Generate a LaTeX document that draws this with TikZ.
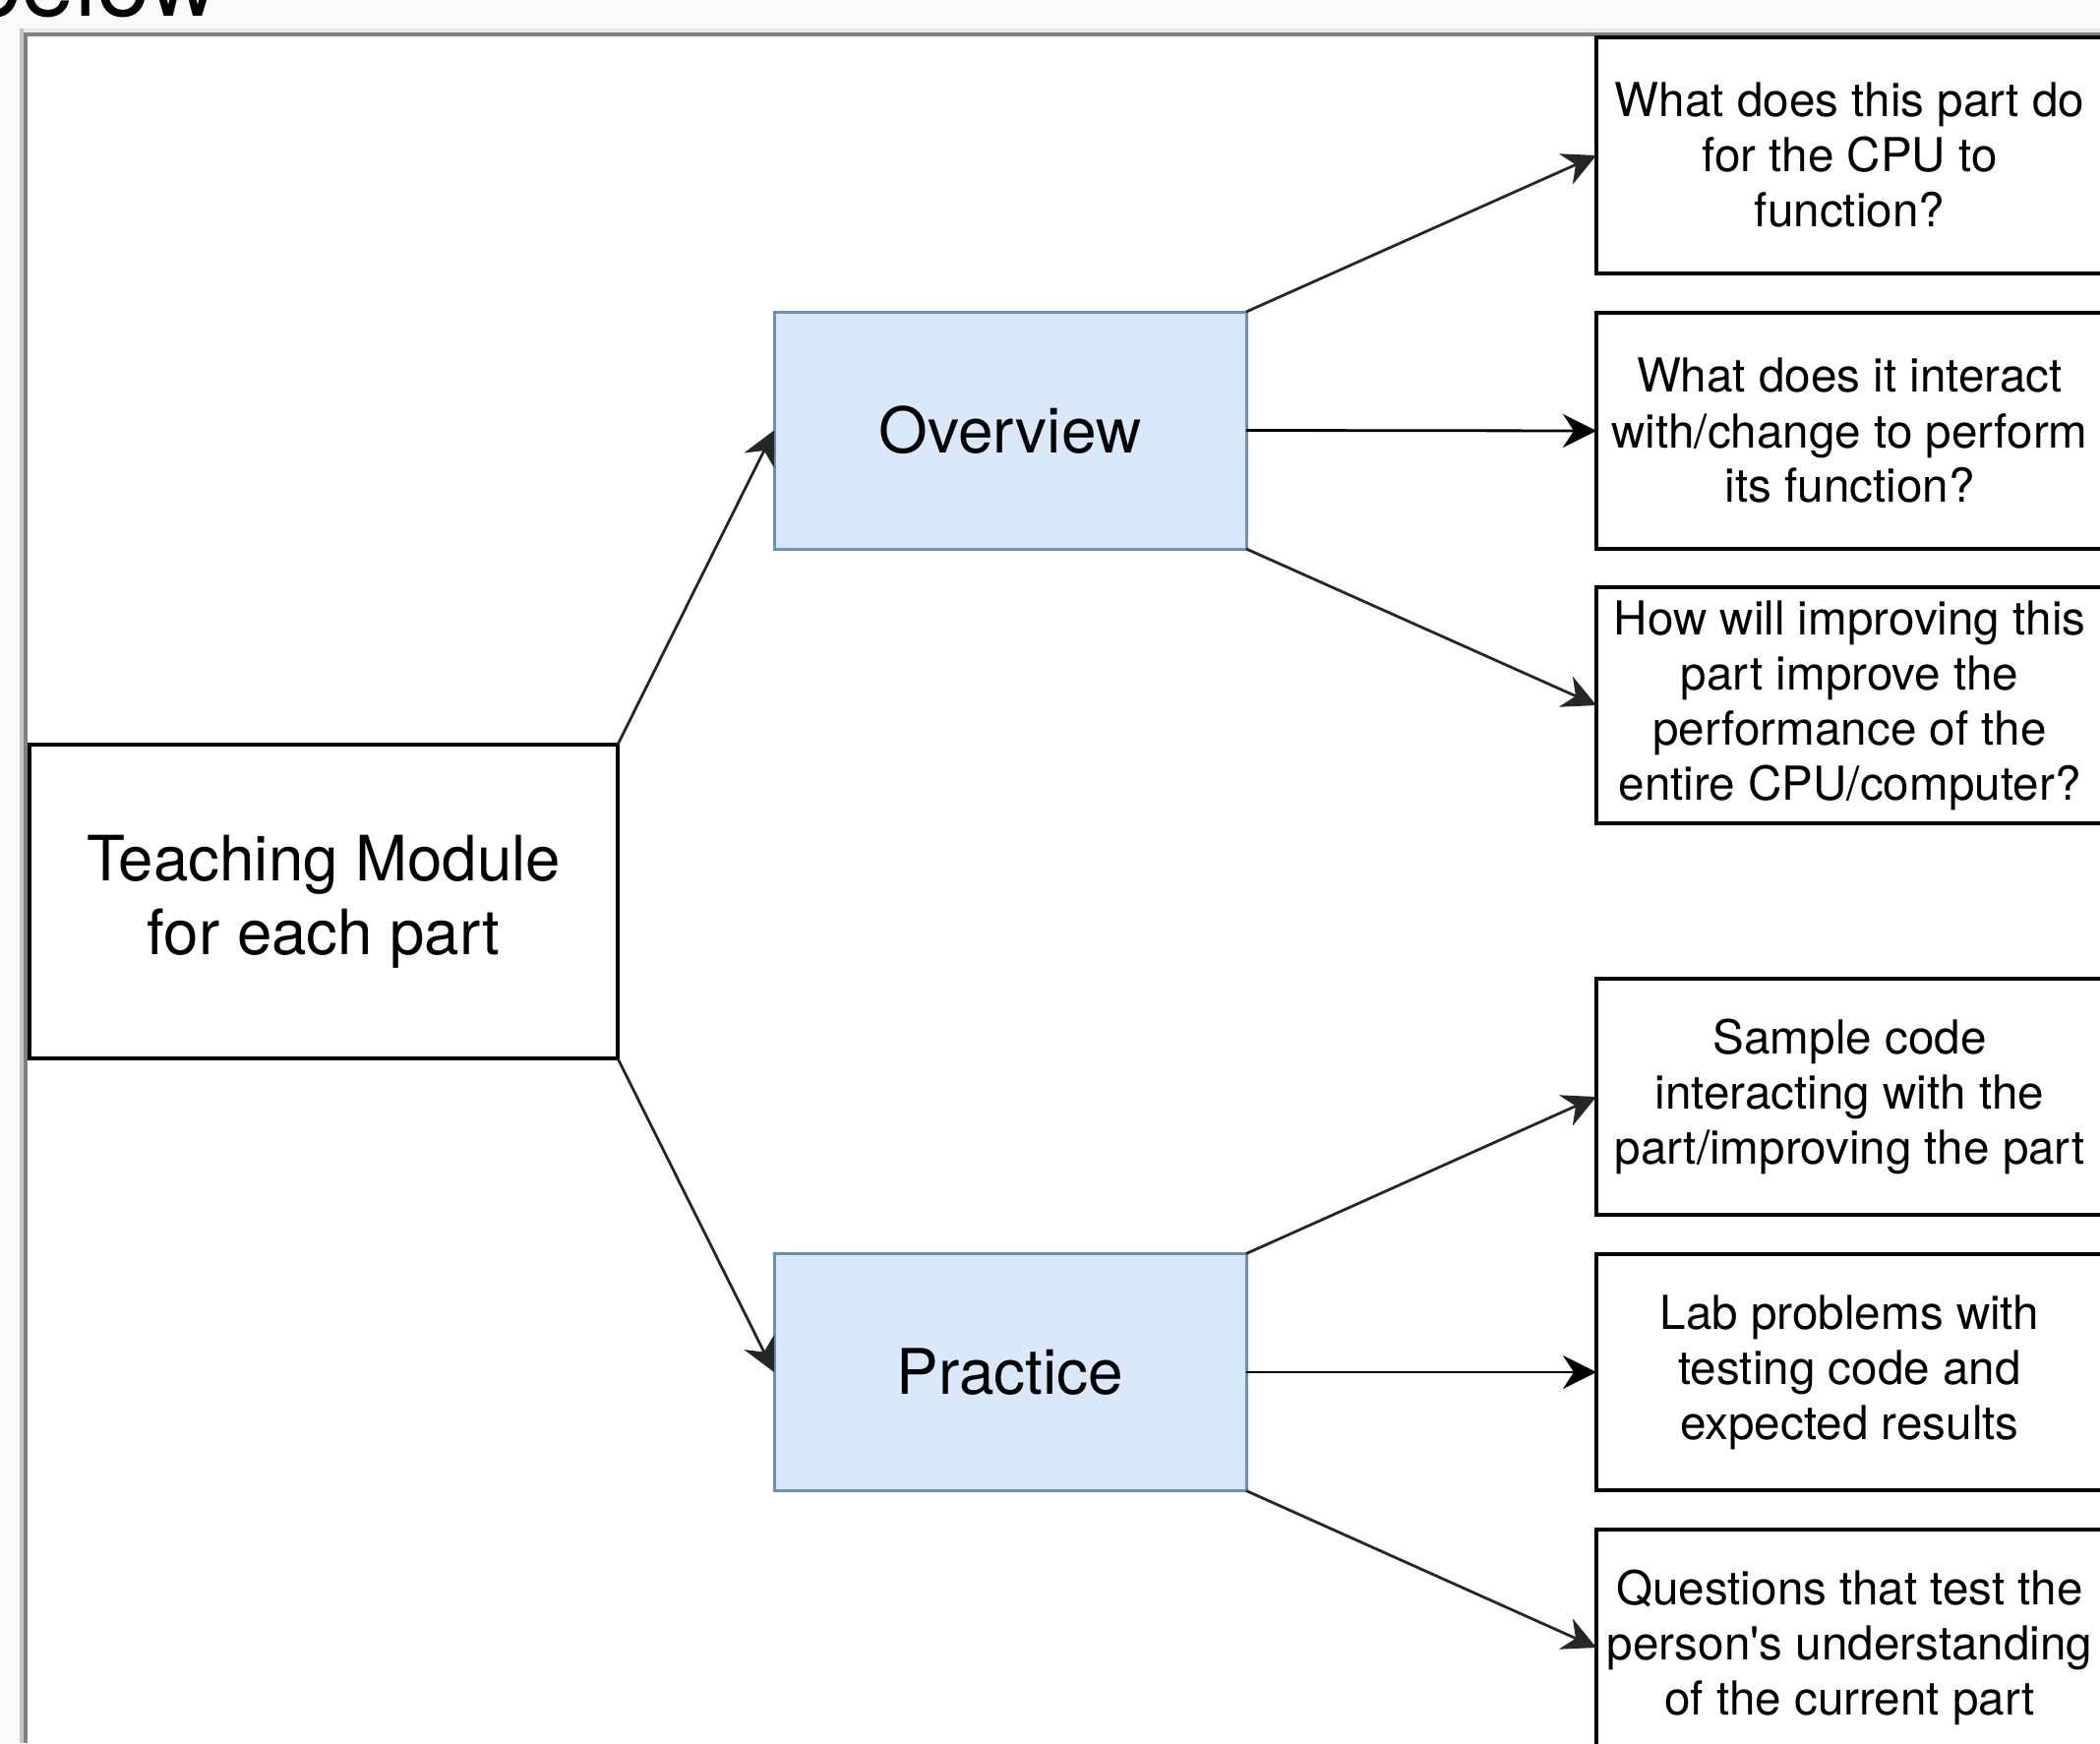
\documentclass[tikz,border=0pt]{standalone}
\usepackage{fontspec}
\setmainfont{TeX Gyre Heros}
\usetikzlibrary{arrows.meta}
\definecolor{bluefill}{HTML}{DAE8FC}
\definecolor{blueline}{HTML}{6C8EBF}
\definecolor{pagebg}{HTML}{F9F9F9}
\definecolor{frameDark}{HTML}{808080}
\definecolor{frameLight}{HTML}{C4C4C4}
\definecolor{frameTop}{HTML}{E8E8E8}
\begin{document}
\begin{tikzpicture}[x=0.5pt,y=-0.5pt,
  whitebox/.style={draw=black, line width=1.75pt, fill=white, rectangle, inner sep=0pt, outer sep=0pt, align=center},
  bluebox/.style={draw=blueline, line width=1.5pt, fill=bluefill, rectangle, inner sep=0pt, outer sep=0pt, align=center,
    minimum width=240pt, minimum height=120.5pt, font=\fontsize{32}{38}\selectfont},
  qbox/.style={whitebox, minimum width=257.5pt, minimum height=120pt, font=\fontsize{23.8}{28}\selectfont},
  conn/.style={draw=black!85, line width=1.4pt, -{Stealth[length=17pt, width=17pt, inset=5.5pt]}}
]
\clip (0,0) rectangle (2135,1772);
\fill[pagebg] (0,0) rectangle (2135,1772);
\fill[white] (28,37) rectangle (2135,1772);
\fill[frameTop] (20,29) rectangle (2135,33);
\fill[frameLight] (20,29) rectangle (24,1772);
\fill[frameDark] (24,33) rectangle (2135,37);
\fill[frameDark] (24,33) rectangle (28,1772);
\node[anchor=base west, inner sep=0pt, font=\fontsize{49}{58}\selectfont] (below) at (-33,17) {below};

\node[whitebox, minimum width=299pt, minimum height=159.5pt, font=\fontsize{31.8}{37.5}\selectfont] (teach) at (329,916.5) {Teaching Module\\for each part};
\node[bluebox] (ov) at (1027,437.5) {Overview};
\node[bluebox] (pr) at (1027,1395) {Practice};

\node[qbox] (q1) at (1880.5,158) {What does this part do\\for the CPU to\\function?};
\node[qbox] (q2) at (1880.5,438) {What does it interact\\with/change to perform\\its function?};
\node[qbox] (q3) at (1880.5,717) {How will improving this\\part improve the\\performance of the\\entire CPU/computer?};
\node[qbox] (q4) at (1880.5,1115) {Sample code\\interacting with the\\part/improving the part};
\node[qbox] (q5) at (1880.5,1395) {Lab problems with\\testing code and\\expected results};
\node[qbox] (q6) at (1880.5,1675) {Questions that test the\\person\textquotesingle s understanding\\of the current part};

\draw[conn] (teach.north east) -- (ov.west);
\draw[conn] (teach.south east) -- (pr.west);
\draw[conn] (ov.north east) -- (q1.west);
\draw[conn, draw=black] (ov.east) -- (q2.west);
\draw[conn] (ov.south east) -- (q3.west);
\draw[conn] (pr.north east) -- (q4.west);
\draw[conn, draw=black] (pr.east) -- (q5.west);
\draw[conn] (pr.south east) -- (q6.west);
\end{tikzpicture}
\end{document}
